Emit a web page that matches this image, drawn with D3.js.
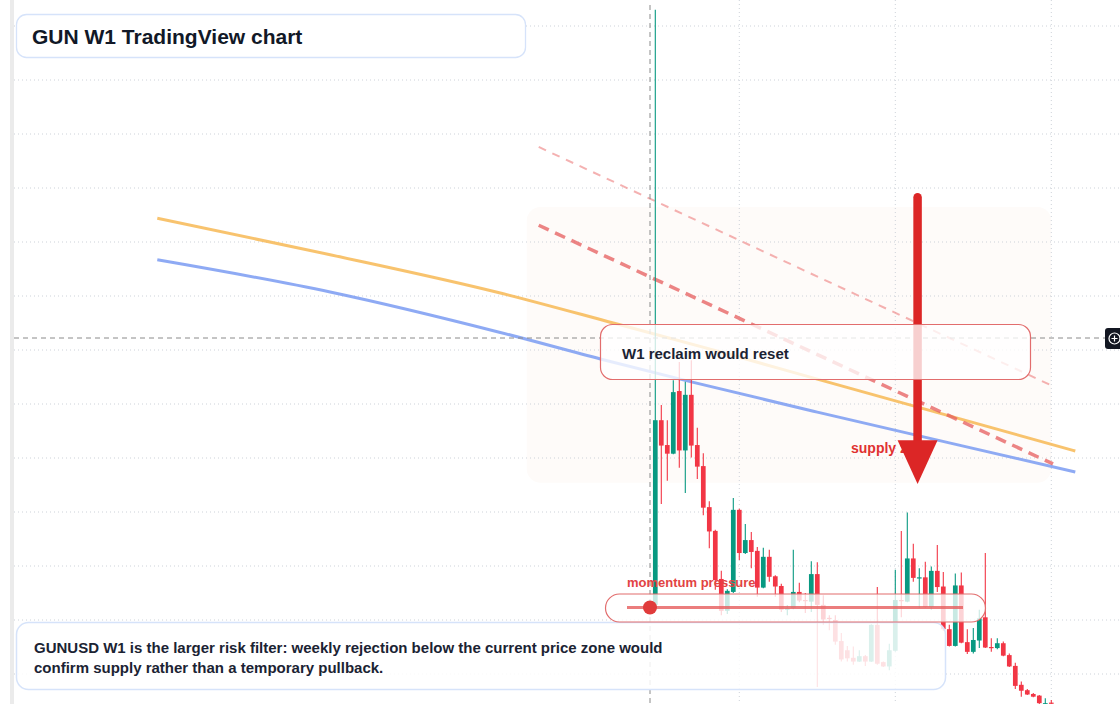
<!DOCTYPE html>
<html>
<head>
<meta charset="utf-8">
<script src="https://cdn.jsdelivr.net/npm/d3@7"></script>
<style>
  html, body { margin: 0; padding: 0; background: #fff; }
  svg { display: block; font-family: "Liberation Sans", Arial, sans-serif; }
</style>
</head>
<body>
<svg id="chart" width="1120" height="704"></svg>
<script>
// weekly GUNUSD candles, first bar week
const firstWeek = "2025-03-31";
const opens  = [0.0228,0.0570,0.0524,0.0508,0.0624,0.0514,0.0617,0.0524,0.0485,0.0409,0.0365,0.0276,0.0217,0.0252,0.0404,0.0324,0.0348,0.0328,0.0260,0.0317,0.0281,0.0263,0.0219,0.0222,0.0252,0.0237,0.0234,0.0285,0.0228,0.0204,0.0200,0.0161,0.0144,0.0130,0.0123,0.0133,0.0123,0.0191,0.0122,0.0114,0.0143,0.0237,0.0234,0.0314,0.0278,0.0279,0.0224,0.0291,0.0262,0.0183,0.0152,0.0264,0.0159,0.0141,0.0162,0.0205,0.0150,0.0148,0.0157,0.0135,0.0115,0.0080,0.0070,0.0063,0.0060,0.0045,0.0047];
const highs  = [0.1330,0.0598,0.0570,0.0644,0.0678,0.0641,0.0681,0.0556,0.0509,0.0420,0.0367,0.0291,0.0257,0.0426,0.0406,0.0378,0.0363,0.0335,0.0334,0.0330,0.0283,0.0267,0.0228,0.0330,0.0269,0.0250,0.0309,0.0307,0.0246,0.0209,0.0209,0.0176,0.0152,0.0151,0.0144,0.0135,0.0192,0.0261,0.0123,0.0156,0.0293,0.0365,0.0399,0.0341,0.0296,0.0308,0.0299,0.0339,0.0289,0.0191,0.0286,0.0288,0.0183,0.0185,0.0219,0.0324,0.0166,0.0166,0.0160,0.0138,0.0121,0.0086,0.0072,0.0065,0.0061,0.0055,0.0052];
const lows   = [0.0224,0.0415,0.0458,0.0507,0.0482,0.0435,0.0501,0.0461,0.0394,0.0333,0.0256,0.0209,0.0211,0.0250,0.0311,0.0322,0.0296,0.0243,0.0259,0.0271,0.0243,0.0215,0.0209,0.0220,0.0233,0.0213,0.0215,0.0076,0.0191,0.0181,0.0154,0.0123,0.0123,0.0117,0.0122,0.0115,0.0122,0.0117,0.0113,0.0107,0.0141,0.0205,0.0233,0.0271,0.0222,0.0222,0.0219,0.0252,0.0180,0.0151,0.0151,0.0157,0.0137,0.0138,0.0148,0.0148,0.0141,0.0146,0.0133,0.0113,0.0072,0.0058,0.0061,0.0057,0.0044,0.0044,0.0044];
const closes = [0.0570,0.0523,0.0508,0.0622,0.0514,0.0617,0.0523,0.0484,0.0408,0.0364,0.0274,0.0217,0.0254,0.0404,0.0324,0.0348,0.0326,0.0260,0.0317,0.0280,0.0262,0.0219,0.0222,0.0252,0.0236,0.0235,0.0285,0.0228,0.0201,0.0202,0.0160,0.0127,0.0129,0.0123,0.0133,0.0123,0.0191,0.0119,0.0114,0.0144,0.0237,0.0235,0.0314,0.0278,0.0279,0.0224,0.0291,0.0261,0.0183,0.0152,0.0264,0.0158,0.0141,0.0163,0.0203,0.0149,0.0149,0.0157,0.0134,0.0114,0.0078,0.0069,0.0062,0.0058,0.0046,0.0046,0.0045];

// moving averages (node dates + values)
const maDates  = ["2023-08-28","2024-03-18","2024-09-30","2025-02-10","2025-06-16","2025-10-06","2026-03-09","2026-08-03"];
const maSlow   = [0.0944,0.0876,0.0806,0.0750,0.0696,0.0646,0.0578,0.0513];
const maDates2 = ["2023-08-28","2024-03-18","2024-09-30","2025-01-27","2025-05-12","2025-10-06","2026-03-09","2026-08-03"];
const maFast   = [0.0867,0.0807,0.0733,0.0683,0.0641,0.0585,0.0528,0.0474];

// descending channel
const channelDates = ["2024-11-15","2026-07-08"];
const channelMain  = [0.0931,0.0489];
const channelUpper = [0.1076,0.0633];

// supply zone + arrow
const zoneDates  = ["2024-11-01","2026-07-06"];
const zonePrices = [0.0965,0.0454];
const arrowDate   = "2026-01-31";
const arrowPrices = [0.0983,0.0533,0.0452];

const priceTicks = [0.01,0.02,0.03,0.04,0.05,0.06,0.07,0.08,0.09,0.10,0.11,0.12,0.13];
const timeTicks  = ["2025-07-07","2026-01-05","2026-07-06"];

const parse = d3.utcParse("%Y-%m-%d");
const svg = d3.select("#chart");

const x = d3.scaleUtc()
  .domain([parse("2023-08-28"), parse("2026-08-03")])
  .range([157.3, 1075.3]);
const y = d3.scaleLinear().domain([0, 0.14]).range([728, -28]);

const candles = opens.map((o, i) => ({
  date: d3.utcDay.offset(parse(firstWeek), 7 * i),
  o: o, h: highs[i], l: lows[i], c: closes[i]
}));

const green = "#089981", red = "#f23645";

// left strip
svg.append("rect").attr("x", 10).attr("y", 0).attr("width", 4).attr("height", 704).attr("fill", "#ebebeb");

// supply zone
svg.append("rect")
  .attr("x", x(parse(zoneDates[0])))
  .attr("y", y(zonePrices[0]))
  .attr("width", x(parse(zoneDates[1])) - x(parse(zoneDates[0])))
  .attr("height", y(zonePrices[1]) - y(zonePrices[0]))
  .attr("rx", 14)
  .attr("fill", "#fefbf9");

// grid
svg.append("g").selectAll("line")
  .data(priceTicks).enter().append("line")
  .attr("x1", 14).attr("x2", 1120)
  .attr("y1", d => y(d)).attr("y2", d => y(d))
  .attr("stroke", "#cdd2d9").attr("stroke-dasharray", "1 3");
svg.append("g").selectAll("line")
  .data(timeTicks).enter().append("line")
  .attr("x1", d => x(parse(d))).attr("x2", d => x(parse(d)))
  .attr("y1", 0).attr("y2", 704)
  .attr("stroke", "#cdd2d9").attr("stroke-dasharray", "1 3");

// moving averages
const maLine = d3.line().x(d => x(d[0])).y(d => y(d[1])).curve(d3.curveMonotoneX);
svg.append("path")
  .attr("d", maLine(maDates.map((d, i) => [parse(d), maSlow[i]])))
  .attr("fill", "none").attr("stroke", "#f7b955").attr("stroke-opacity", 0.85).attr("stroke-width", 3);
svg.append("path")
  .attr("d", maLine(maDates2.map((d, i) => [parse(d), maFast[i]])))
  .attr("fill", "none").attr("stroke", "#7a9bf2").attr("stroke-opacity", 0.85).attr("stroke-width", 3);

// channel
svg.append("line")
  .attr("x1", x(parse(channelDates[0]))).attr("y1", y(channelUpper[0]))
  .attr("x2", x(parse(channelDates[1]))).attr("y2", y(channelUpper[1]))
  .attr("stroke", "#ef9090").attr("stroke-opacity", 0.7).attr("stroke-width", 2)
  .attr("stroke-dasharray", "8 7");
svg.append("line")
  .attr("x1", x(parse(channelDates[0]))).attr("y1", y(channelMain[0]))
  .attr("x2", x(parse(channelDates[1]))).attr("y2", y(channelMain[1]))
  .attr("stroke", "#e65c5c").attr("stroke-opacity", 0.75).attr("stroke-width", 3.5)
  .attr("stroke-dasharray", "11 7");

// candles
const bw = 4.7;
const cg = svg.append("g");
cg.selectAll("line.wick")
  .data(candles).enter().append("line")
  .attr("class", "wick")
  .attr("x1", d => x(d.date)).attr("x2", d => x(d.date))
  .attr("y1", d => y(d.h)).attr("y2", d => y(d.l))
  .attr("stroke", d => d.c >= d.o ? green : red).attr("stroke-width", 1.1);
cg.selectAll("rect.body")
  .data(candles).enter().append("rect")
  .attr("class", "body")
  .attr("x", d => x(d.date) - bw / 2)
  .attr("y", d => y(Math.max(d.o, d.c)))
  .attr("width", bw)
  .attr("height", d => Math.max(1.2, Math.abs(y(d.o) - y(d.c))))
  .attr("fill", d => d.c >= d.o ? green : red);

// crosshair
svg.append("line").attr("x1", 14).attr("x2", 1105).attr("y1", 338).attr("y2", 338)
  .attr("stroke", "#8a8a8a").attr("stroke-dasharray", "5 4");
svg.append("line").attr("x1", 650).attr("x2", 650).attr("y1", 5).attr("y2", 704)
  .attr("stroke", "#8a8a8a").attr("stroke-dasharray", "5 4");

// supply label + arrow
svg.append("text").attr("x", 851).attr("y", 453)
  .attr("font-size", 14).attr("font-weight", "bold").attr("fill", "#e03131")
  .text("supply zone");
const ax = x(parse(arrowDate));
svg.append("line").attr("x1", ax).attr("x2", ax)
  .attr("y1", y(arrowPrices[0])).attr("y2", y(arrowPrices[1]) + 4)
  .attr("stroke", "#dc2626").attr("stroke-width", 8.5).attr("stroke-linecap", "round");
svg.append("path")
  .attr("d", `M${ax - 20},${y(arrowPrices[1])} L${ax + 20},${y(arrowPrices[1])} L${ax},${y(arrowPrices[2])} Z`)
  .attr("fill", "#dc2626");

// reclaim box
svg.append("rect").attr("x", 600.5).attr("y", 324.5).attr("width", 430).attr("height", 55).attr("rx", 12)
  .attr("fill", "#fff").attr("fill-opacity", 0.78).attr("stroke", "#e26d6d").attr("stroke-width", 1.2);
svg.append("text").attr("x", 622).attr("y", 359)
  .attr("font-size", 15).attr("font-weight", "bold").attr("fill", "#1b2333")
  .text("W1 reclaim would reset");

// bottom note
svg.append("rect").attr("x", 16.5).attr("y", 622.5).attr("width", 929).attr("height", 67).attr("rx", 12)
  .attr("fill", "#fff").attr("fill-opacity", 0.85).attr("stroke", "#d6e3fa").attr("stroke-width", 1.5);
const note = svg.append("text").attr("font-size", 15).attr("font-weight", "bold").attr("fill", "#1b2333");
note.append("tspan").attr("x", 34).attr("y", 653)
  .text("GUNUSD W1 is the larger risk filter: weekly rejection below the current price zone would");
note.append("tspan").attr("x", 34).attr("y", 673)
  .text("confirm supply rather than a temporary pullback.");

// momentum pill
svg.append("rect").attr("x", 605.5).attr("y", 594).attr("width", 380).attr("height", 28).attr("rx", 14)
  .attr("fill", "#fff").attr("fill-opacity", 0.78).attr("stroke", "#e26d6d").attr("stroke-width", 1.2);
svg.append("line").attr("x1", 627).attr("x2", 963).attr("y1", 607.5).attr("y2", 607.5)
  .attr("stroke", "#e65c5c").attr("stroke-opacity", 0.8).attr("stroke-width", 3);
svg.append("circle").attr("cx", 650).attr("cy", 607.5).attr("r", 7).attr("fill", "#e03b3b");
svg.append("text").attr("x", 627).attr("y", 587)
  .attr("font-size", 13).attr("font-weight", "bold").attr("fill", "#e24343")
  .text("momentum pressure");

// title
svg.append("rect").attr("x", 16.5).attr("y", 14.5).attr("width", 509).attr("height", 43).attr("rx", 10)
  .attr("fill", "#fff").attr("stroke", "#d6e3fa").attr("stroke-width", 1.3);
svg.append("text").attr("x", 32).attr("y", 44)
  .attr("font-size", 21).attr("font-weight", "bold").attr("fill", "#111827")
  .text("GUN W1 TradingView chart");

// crosshair button on the right edge
svg.append("rect").attr("x", 1105).attr("y", 328).attr("width", 20).attr("height", 21).attr("rx", 3).attr("fill", "#131722");
svg.append("circle").attr("cx", 1114.5).attr("cy", 338.5).attr("r", 5.5).attr("fill", "none").attr("stroke", "#fff").attr("stroke-width", 1.2);
svg.append("path").attr("d", "M1111.5,338.5 H1117.5 M1114.5,335.5 V341.5").attr("stroke", "#fff").attr("stroke-width", 1.2);
</script>
</body>
</html>
